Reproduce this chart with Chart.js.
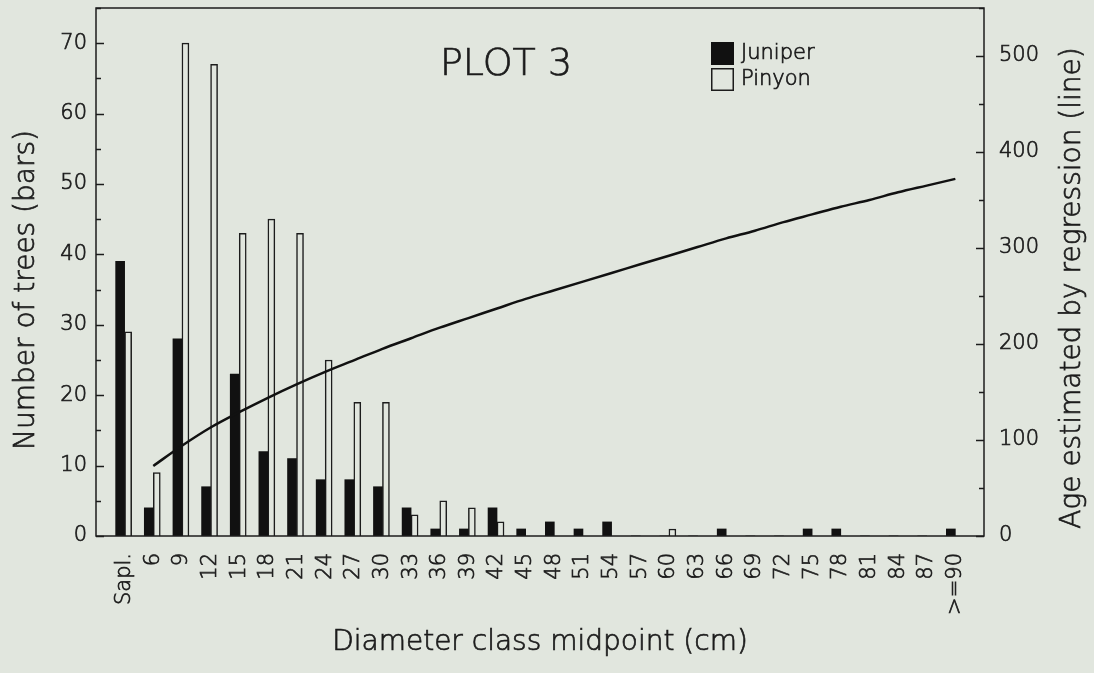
<!DOCTYPE html>
<html>
<head>
<meta charset="utf-8">
<script src="https://cdn.jsdelivr.net/npm/chart.js@4"></script>
<style>
html, body { margin: 0; padding: 0; background: #e1e6de; }
#wrap { width: 1094px; height: 673px; }
</style>
</head>
<body>
<div id="wrap"><canvas id="myChart" width="1094" height="673"></canvas></div>
<script>
const categories = ['Sapl.', '6', '9', '12', '15', '18', '21', '24', '27', '30',
	'33', '36', '39', '42', '45', '48', '51', '54', '57', '60',
	'63', '66', '69', '72', '75', '78', '81', '84', '87', '>=90'];
const midpoints = [3, 6, 9, 12, 15, 18, 21, 24, 27, 30,
	33, 36, 39, 42, 45, 48, 51, 54, 57, 60,
	63, 66, 69, 72, 75, 78, 81, 84, 87, 90];
const juniper = [39, 4, 28, 7, 23, 12, 11, 8, 8, 7,
	4, 1, 1, 4, 1, 2, 1, 2, 0, 0,
	0, 1, 0, 0, 1, 1, 0, 0, 0, 1];
const pinyon = [29, 9, 70, 67, 43, 45, 43, 25, 19, 19,
	3, 5, 4, 2, 0, 0, 0, 0, 0, 1,
	0, 0, 0, 0, 0, 0, 0, 0, 0, 0];
const age = [null, 73, 94, 113, 129, 144, 158, 171, 183, 195,
	206, 217, 227, 237, 247, 256, 265, 274, 283, 292,
	301, 310, 318, 327, 335, 343, 350, 358, 365, 372];
const plotTitle = 'PLOT 3';
const xTitle = 'Diameter class midpoint (cm)';
const yTitle = 'Number of trees (bars)';
const y1Title = 'Age estimated by regression (line)';

const bg = '#e1e6de';
const ink = '#1c1c1c';
const font = 'DejaVu Sans';
const weight = '200';
const thick = 0.7; // extra stroke so the light face looks like a pen plot

function pts(values){
	return midpoints.map((x, i) => ({x: x, y: values[i]}));
}

function penText(ctx, text, x, y){
	ctx.fillText(text, x, y);
	ctx.strokeText(text, x, y);
}

// frame, inward ticks, title, legend and axis titles
const framePlugin = {
	id: 'frame',
	beforeDraw(chart){
		const ctx = chart.ctx;
		ctx.save();
		ctx.fillStyle = bg;
		ctx.fillRect(0, 0, chart.width, chart.height);
		ctx.restore();
	},
	afterDraw(chart){
		const ctx = chart.ctx;
		const a = chart.chartArea;
		const sy = chart.scales.y, sy1 = chart.scales.y1;
		ctx.save();
		ctx.strokeStyle = ink;
		ctx.lineWidth = 1.5;
		ctx.strokeRect(a.left, a.top, a.right - a.left, a.bottom - a.top);

		ctx.beginPath();
		sy.ticks.forEach(t => {
			const py = Math.round(sy.getPixelForValue(t.value)) + 0.5;
			const len = t.value % 10 === 0 ? 8 : 5;
			ctx.moveTo(a.left, py); ctx.lineTo(a.left + len, py);
		});
		sy1.ticks.forEach(t => {
			const py = Math.round(sy1.getPixelForValue(t.value)) + 0.5;
			const len = t.value % 100 === 0 ? 8 : 5;
			ctx.moveTo(a.right, py); ctx.lineTo(a.right - len, py);
		});
		ctx.stroke();

		ctx.fillStyle = ink;
		ctx.lineWidth = thick;
		ctx.font = weight + ' 38px "' + font + '"';
		ctx.textAlign = 'center';
		ctx.textBaseline = 'alphabetic';
		penText(ctx, plotTitle, 506, 75);

		// legend
		ctx.fillStyle = '#111';
		ctx.fillRect(711, 42, 23, 23);
		ctx.lineWidth = 1.5;
		ctx.strokeRect(711.75, 68.75, 21.5, 21.5);
		ctx.fillStyle = ink;
		ctx.lineWidth = thick;
		ctx.font = weight + ' 21px "' + font + '"';
		ctx.textAlign = 'left';
		ctx.textBaseline = 'middle';
		penText(ctx, chart.data.datasets[0].label, 741, 54);
		penText(ctx, chart.data.datasets[1].label, 741, 80);

		ctx.font = weight + ' 28px "' + font + '"';
		ctx.textAlign = 'center';
		ctx.textBaseline = 'middle';
		penText(ctx, xTitle, (a.left + a.right) / 2, 643);
		ctx.save();
		ctx.translate(27, 290);
		ctx.rotate(-Math.PI / 2);
		penText(ctx, yTitle, 0, 0);
		ctx.restore();
		ctx.save();
		ctx.translate(1073, 288);
		ctx.rotate(-Math.PI / 2);
		penText(ctx, y1Title, 0, 0);
		ctx.restore();
		ctx.restore();
	}
};

function createChart(){
	var chart = document.getElementById('myChart');

	const data = {
		datasets: [{
			type: 'bar',
			label: 'Juniper',
			data: pts(juniper),
			backgroundColor: '#111',
			barThickness: 9,
			yAxisID: 'y',
			order: 1
		}, {
			type: 'bar',
			label: 'Pinyon',
			data: pts(pinyon),
			backgroundColor: bg,
			borderColor: ink,
			borderWidth: 1.5,
			barThickness: 7,
			yAxisID: 'y',
			order: 1
		}, {
			type: 'line',
			label: 'Age',
			data: pts(age),
			borderColor: '#111',
			borderWidth: 2.5,
			pointRadius: 0,
			cubicInterpolationMode: 'monotone',
			yAxisID: 'y1',
			order: 0
		}]
	};

	const tickFont = {family: font, size: 21, weight: weight};
	const noGrid = {display: false, drawTicks: false};

	const config = {
		type: 'bar',
		data: data,
		options: {
			responsive: false,
			animation: false,
			layout: {padding: {top: 8, left: 0, right: 0, bottom: 0}},
			plugins: {
				legend: {display: false},
				tooltip: {enabled: false}
			},
			scales: {
				x: {
					type: 'linear',
					min: 0,
					max: 93,
					offset: false,
					grid: noGrid,
					border: {display: false},
					afterFit: s => { s.height = 137; s.paddingLeft = 0; s.paddingRight = 0; },
					ticks: {
						stepSize: 3,
						autoSkip: false,
						maxRotation: 90,
						minRotation: 90,
						padding: 17,
						color: ink,
						textStrokeColor: ink,
						textStrokeWidth: thick,
						font: tickFont,
						callback: v => {
							const i = midpoints.indexOf(v);
							return i < 0 ? '' : categories[i];
						}
					}
				},
				y: {
					position: 'left',
					min: 0,
					max: 75,
					grid: noGrid,
					border: {display: false},
					afterFit: s => { s.width = 96; s.paddingTop = 0; s.paddingBottom = 0; },
					ticks: {
						stepSize: 5,
						padding: 9,
						color: ink,
						textStrokeColor: ink,
						textStrokeWidth: thick,
						font: tickFont,
						callback: v => v % 10 === 0 ? v : ''
					}
				},
				y1: {
					position: 'right',
					min: 0,
					max: 550,
					grid: noGrid,
					border: {display: false},
					afterFit: s => { s.width = 110; s.paddingTop = 0; s.paddingBottom = 0; },
					ticks: {
						stepSize: 50,
						padding: 15,
						color: ink,
						textStrokeColor: ink,
						textStrokeWidth: thick,
						font: tickFont,
						callback: v => v % 100 === 0 ? v : ''
					}
				}
			}
		},
		plugins: [framePlugin]
	};

	const myChart = new Chart(chart, config);
}

document.addEventListener("DOMContentLoaded", createChart);
</script>
</body>
</html>
